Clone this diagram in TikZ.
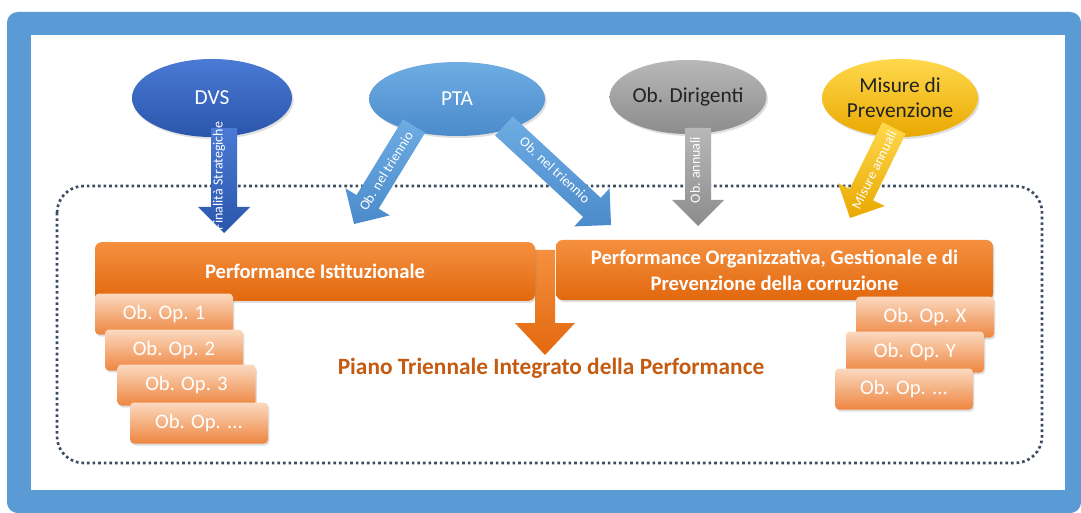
\documentclass[tikz,border=0pt]{standalone}
\usepackage{fontspec}
\setmainfont{Carlito}
\usetikzlibrary{shapes.geometric,calc,shadows}
\definecolor{frameblue}{HTML}{5B9BD5}
\definecolor{dvsT}{HTML}{4A7AD4}
\definecolor{dvsB}{HTML}{2A55AC}
\definecolor{ptaT}{HTML}{6EACE3}
\definecolor{ptaB}{HTML}{4B8BCB}
\definecolor{dirT}{HTML}{B8B8B8}
\definecolor{dirB}{HTML}{8C8C8C}
\definecolor{misT}{HTML}{FFD94D}
\definecolor{misB}{HTML}{E9A800}
\definecolor{barT}{HTML}{F5903F}
\definecolor{barB}{HTML}{E2680E}
\definecolor{boxT}{HTML}{FBD9C0}
\definecolor{boxB}{HTML}{EE8640}
\definecolor{pianoC}{HTML}{C55A11}
\definecolor{dotC}{HTML}{3C4B62}
\definecolor{darktext}{HTML}{222222}
\newcommand\blockarrow[6]{%
  \path ($(#2)!#5!(#1)$) coordinate (ba-h);
  \path[#6] ($(#1)!#3!90:(#2)$) -- ($(ba-h)!#3!90:(#2)$) -- ($(ba-h)!#4!90:(#2)$)
    -- (#2) -- ($(ba-h)!#4!-90:(#2)$) -- ($(ba-h)!#3!-90:(#2)$) -- ($(#1)!#3!-90:(#2)$) -- cycle;
}
\tikzset{
  ell/.style={ellipse, inner sep=0pt, font=\fontsize{16pt}{19pt}\selectfont,
    drop shadow={shadow xshift=1.2pt, shadow yshift=-1.5pt, opacity=0.25}},
  bar/.style={rectangle, rounded corners=5pt, top color=barT, bottom color=barB, text=white,
    font=\bfseries\fontsize{15.5pt}{19.5pt}\selectfont, align=center, inner sep=0pt,
    drop shadow={shadow xshift=1pt, shadow yshift=-1.5pt, opacity=0.25}},
  opbox/.style={rectangle, rounded corners=3pt, top color=boxT, bottom color=boxB, text=white,
    font=\fontsize{15.5pt}{18pt}\selectfont, minimum width=103.5pt, minimum height=30.75pt,
    inner sep=0pt, drop shadow={shadow xshift=1pt, shadow yshift=-1.5pt, opacity=0.25}},
  alabel/.style={text=white, font=\fontsize{10.5pt}{12pt}\selectfont, inner sep=0pt},
}
\begin{document}
\begin{tikzpicture}[x=0.75pt,y=-0.75pt]
\useasboundingbox (0,0) rectangle (1081,513);
\fill[white] (0,0) rectangle (1081,513);
% frame
\fill[frameblue, rounded corners=8pt] (7,12) rectangle (1081,513);
\fill[white] (31,35) rectangle (1065,490);
% dotted region
\draw[dotC, line width=2pt, dash pattern=on 2pt off 2.2pt, rounded corners=20pt] (57,186) rectangle (1042,463);
% source ellipses
\node[ell, top color=dvsT, bottom color=dvsB, text=white, minimum width=120pt, minimum height=58.5pt] (dvs) at (212,98) {DVS};
\node[ell, top color=ptaT, bottom color=ptaB, text=white, minimum width=132pt, minimum height=55.5pt] (pta) at (457,99) {PTA};
\node[ell, top color=dirT, bottom color=dirB, text=darktext, minimum width=117pt, minimum height=55.5pt] (dir) at (688,97) {Ob. Dirigenti};
\node[ell, top color=misT, bottom color=misB, text=darktext, minimum width=117pt, minimum height=58.5pt, align=center] (mis) at (900,98) {Misure di\\Prevenzione};
% arrow end points
\coordinate (dvsA) at (224,128);  \coordinate (dvsZ) at (224,233);
\coordinate (ptaLA) at (414,126); \coordinate (ptaLZ) at (354,224);
\coordinate (ptaRA) at (504,126); \coordinate (ptaRZ) at (611,225);
\coordinate (dirA) at (698,128);  \coordinate (dirZ) at (698,226);
\coordinate (misA) at (894,128);  \coordinate (misZ) at (850,218);
\blockarrow{dvsA}{dvsZ}{9.75pt}{19.5pt}{19.5pt}{top color=dvsT, bottom color=dvsB}
\blockarrow{ptaLA}{ptaLZ}{9.75pt}{19.5pt}{19.5pt}{top color=ptaT, bottom color=ptaB}
\blockarrow{ptaRA}{ptaRZ}{9.75pt}{19.5pt}{19.5pt}{top color=ptaT, bottom color=ptaB}
\blockarrow{dirA}{dirZ}{9.75pt}{19.5pt}{19.5pt}{top color=dirT, bottom color=dirB}
\blockarrow{misA}{misZ}{9.75pt}{19.5pt}{19.5pt}{top color=misT, bottom color=misB}
% arrow labels
\node[alabel, rotate=90] (l1) at (219,176) {Finalità Strategiche};
\node[alabel, rotate=58.5] (l2) at (386,171) {Ob. nel triennio};
\node[alabel, rotate=-42.8] (l3) at (555,170) {Ob. nel triennio};
\node[alabel, rotate=90] (l4) at (695,170) {Ob. annuali};
\node[alabel, rotate=63.9] (l5) at (874,170) {Misure annuali};
% central arrow
\node[text=pianoC, font=\bfseries\fontsize{17.5pt}{21pt}\selectfont, inner sep=1pt] (piano) at (551,368) {Piano Triennale Integrato della Performance};
\coordinate (cA) at (545,250);
\coordinate (cZ) at (545,355);
\blockarrow{cA}{cZ}{7.5pt}{22.5pt}{24pt}{top color=barT, bottom color=barB}
% bars
\node[bar, minimum width=330pt, minimum height=44pt] (pi) at (315,271.5) {Performance Istituzionale};
\node[bar, minimum width=327.75pt, minimum height=45pt] (po) at (774.5,270) {Performance Organizzativa, Gestionale e di\\Prevenzione della corruzione};
% operational objectives
\node[opbox] (o1) at (164,314) {Ob. Op. 1};
\node[opbox] (o2) at (174,350) {Ob. Op. 2};
\node[opbox] (o3) at (186.5,385) {Ob. Op. 3};
\node[opbox] (o4) at (199,423) {Ob. Op. ...};
\node[opbox] (ox) at (925,317) {Ob. Op. X};
\node[opbox] (oy) at (915,352) {Ob. Op. Y};
\node[opbox] (oz) at (904,389) {Ob. Op. ...};
\end{tikzpicture}
\end{document}
